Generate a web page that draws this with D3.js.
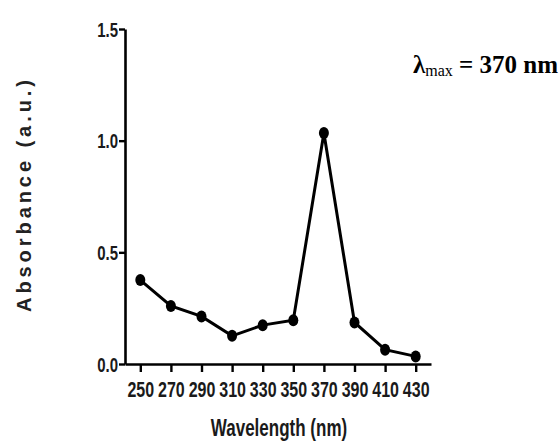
<!DOCTYPE html>
<html>
<head>
<meta charset="utf-8">
<script src="https://cdn.jsdelivr.net/npm/d3@7"></script>
<style>
  body { margin: 0; background: #fff; }
  svg { display: block; }
</style>
</head>
<body>
<div class="chart"></div>
<script>
// data
const wavelengths = [250, 270, 290, 310, 330, 350, 370, 390, 410, 430];
const absorbance = [0.376, 0.26, 0.213, 0.126, 0.174, 0.196, 1.034, 0.186, 0.064, 0.034];
const yTicks = [0.0, 0.5, 1.0, 1.5];
const xLabel = "Wavelength (nm)";
const yLabel = "Absorbance (a.u.)";

const width = 560;
const height = 443;

const svg = d3.select(".chart").append("svg")
    .attr("width", width)
    .attr("height", height);

/* Scale */
const xScale = d3.scaleLinear()
    .domain([240, 440])
    .range([125, 431]);

const yScale = d3.scaleLinear()
    .domain([0, 1.5])
    .range([364, 29]);

const sans = "'Liberation Sans', Arial, sans-serif";

/* Axes */
const xAxis = d3.axisBottom(xScale)
    .tickValues(wavelengths)
    .tickSize(8)
    .tickSizeOuter(0);

const yAxis = d3.axisLeft(yScale)
    .tickValues(yTicks)
    .tickSize(6)
    .tickSizeOuter(0)
    .tickFormat(d3.format(".1f"));

const gx = svg.append("g")
    .attr("transform", `translate(0, ${yScale(0)})`)
    .call(xAxis);

const gy = svg.append("g")
    .attr("transform", `translate(${xScale(240)}, 0)`)
    .call(yAxis);

[gx, gy].forEach(g => {
    g.select(".domain").attr("stroke", "#000").attr("stroke-width", 2.6);
    g.selectAll(".tick line").attr("stroke", "#000").attr("stroke-width", 2.4);
    g.selectAll(".tick text")
        .attr("fill", "#1a1a1a")
        .style("font-family", sans)
        .style("font-size", "20px")
        .style("font-weight", "bold");
});
// condensed, slightly tall look of the original labels
gx.selectAll(".tick text")
    .attr("transform", "scale(0.8, 1.1)")
    .attr("y", 16);
gy.selectAll(".tick text")
    .attr("transform", "scale(0.75, 1.05)")
    .attr("x", -7 / 0.75)
    .attr("dy", "0.34em");

/* Axis titles */
svg.append("text")
    .attr("transform", "translate(279, 436) scale(0.74, 1)")
    .attr("text-anchor", "middle")
    .attr("fill", "#1a1a1a")
    .style("font-family", sans)
    .style("font-size", "23px")
    .style("font-weight", "bold")
    .text(xLabel);

svg.append("text")
    .attr("transform", "translate(31, 196) rotate(-90)")
    .attr("text-anchor", "middle")
    .attr("textLength", 232)
    .attr("lengthAdjust", "spacing")
    .attr("fill", "#222")
    .style("font-family", sans)
    .style("font-size", "20px")
    .style("font-weight", "bold")
    .text(yLabel);

/* Line + markers */
const points = wavelengths.map((w, i) => ({w: w, a: absorbance[i]}));

const line = d3.line()
    .x(d => xScale(d.w))
    .y(d => yScale(d.a));

svg.append("path")
    .datum(points)
    .attr("d", line)
    .attr("fill", "none")
    .attr("stroke", "#000")
    .attr("stroke-width", 3);

svg.append("g")
    .selectAll("ellipse")
    .data(points).enter()
    .append("ellipse")
    .attr("cx", d => xScale(d.w))
    .attr("cy", d => yScale(d.a))
    .attr("rx", 5)
    .attr("ry", 6)
    .attr("fill", "#000");

/* Annotation */
const note = svg.append("text")
    .attr("x", 558)
    .attr("y", 73)
    .attr("text-anchor", "end")
    .attr("fill", "#000")
    .style("font-family", "'Liberation Serif', 'Times New Roman', serif")
    .style("font-weight", "bold")
    .style("font-size", "25px");
note.append("tspan").text("\u03bb");
note.append("tspan").attr("dy", 3).style("font-size", "16px").style("font-weight", "normal").text("max");
note.append("tspan").attr("dy", -3).text(" = 370 nm");
</script>
</body>
</html>
